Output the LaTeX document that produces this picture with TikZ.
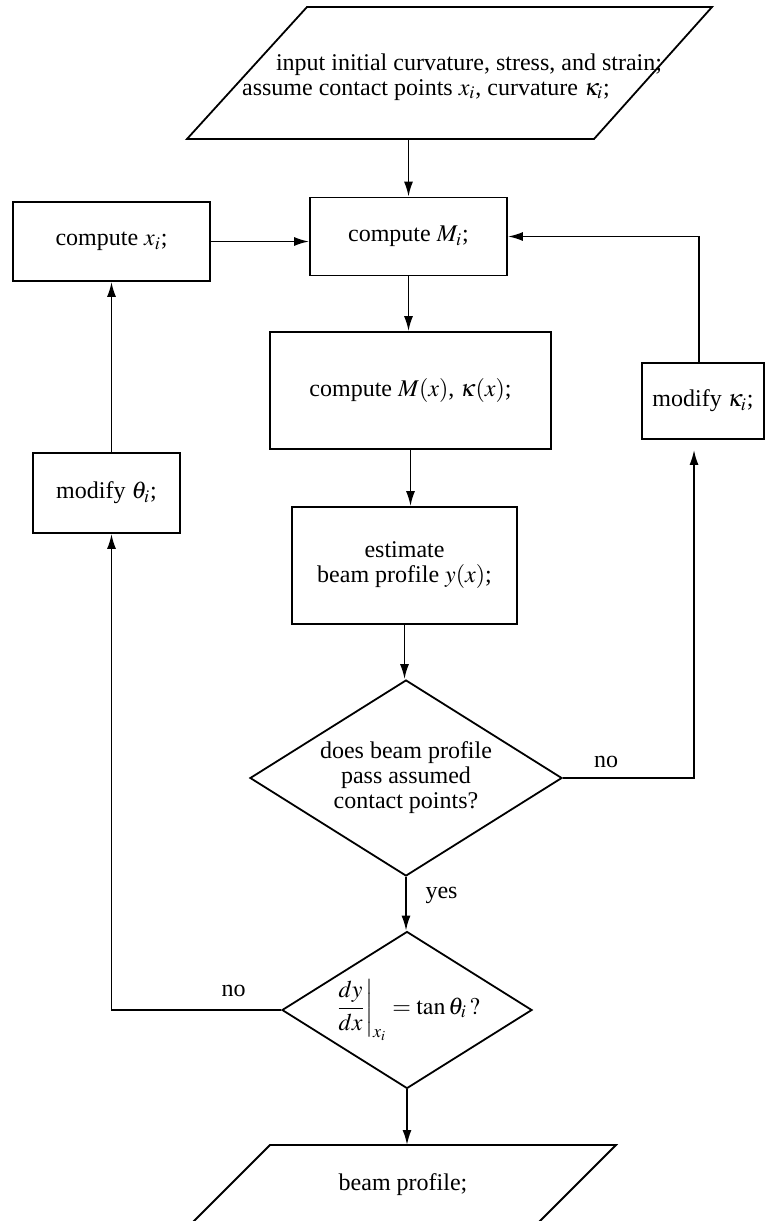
\documentclass[tikz,border=0pt]{standalone}
\usepackage{mathptmx}
\usepackage{fontspec}
\setmainfont{Liberation Serif}
\usetikzlibrary{shapes.geometric,arrows.meta}

\begin{document}
\begin{tikzpicture}[x=0.5pt,y=-0.5pt,
	font=\fontsize{12}{12.5}\selectfont,
	box/.style={draw,line width=0.9pt,inner sep=0pt,align=center},
	choice/.style={diamond,draw,line width=0.9pt,inner sep=0pt,shape aspect=1.6,align=center},
	iotext/.style={inner sep=0pt,align=center},
	ioline/.style={line width=0.9pt,line join=miter},
	flow/.style={line width=0.9pt,-{Latex[length=7.5pt,width=4.5pt]}}]
\useasboundingbox (0,0) rectangle (765,1221);
\clip (0,0) rectangle (765,1221);
\node[iotext] (input) at (450,77) {\hspace*{19pt}input initial curvature, stress, and strain;\\assume contact points $x_i$, curvature $\kappa_i$;\hspace*{24pt}}; % input
\draw[ioline] ([shift={(-143,-70)}]input.center) -- ++(405,0) -- ++(-118,132) -- ++(-407,0) -- cycle; % input frame
\coordinate (inbase) at ([yshift=-31pt]input.center); % input bottom
\node[box,minimum width=98.5pt,minimum height=39.5pt] (xi) at (111.5,241.5) {compute $x_i$;}; % xi
\node[box,minimum width=98.5pt,minimum height=39pt] (Mi) at (408.5,236.5) {compute $M_i$;}; % Mi
\node[box,minimum width=140.5pt,minimum height=58.5pt] (Mx) at (410.5,390.5) {compute $M(x)$, $\kappa(x)$;}; % Mx
\node[box,minimum width=61pt,minimum height=38pt] (kappa) at (703,401) {modify $\kappa_i$;}; % kappa
\node[box,minimum width=73.5pt,minimum height=40pt] (theta) at (106.5,493) {modify $\theta_i$;}; % theta
\node[box,minimum width=112.5pt,minimum height=58.5pt] (profile) at (404.5,565.5) {estimate\\beam profile $y(x)$;}; % profile
\node[choice,minimum width=156pt,minimum height=98pt] (pass) at (406,778) {does beam profile\\pass assumed\\contact points?}; % pass
\node[choice,minimum width=125pt,minimum height=78.5pt] (slope) at (407,1010) {$\displaystyle\left.\frac{dy}{dx}\right|_{x_i} = \tan\theta_i\,?$}; % slope
\node[iotext] (result) at (403,1185) {beam profile;}; % result
\draw[ioline] ([shift={(-133,-40)}]result.center) -- ++(346,0) -- ++(-80,80) -- ++(-346,0) -- cycle; % result frame
\coordinate (outtop) at ([yshift=20pt]result.center); % result top

\draw[flow] (inbase -| Mi.north) -- (Mi.north); % input-Mi
\draw[flow] (xi.east) -- (Mi.west |- xi.east); % xi-Mi
\draw[flow] (Mi.south) -- (Mi.south |- Mx.north); % Mi-Mx
\draw[flow] (Mx.south) -- (Mx.south |- profile.north); % Mx-profile
\draw[flow] (profile.south) -- (profile.south |- pass.north); % profile-pass
\draw[flow] (pass.south) -- node[right,pos=0.35,xshift=6pt]{yes} (pass.south |- slope.north); % pass-slope
\draw[flow] (slope.south) -- (slope.south |- outtop); % slope-result
\draw[flow,shorten >=5pt] (pass.east) -- node[above,pos=0.33,yshift=1.5pt]{no} ([xshift=-4.5pt]kappa.south |- pass.east) -- ([xshift=-4.5pt]kappa.south); % pass-kappa
\draw[flow] ([xshift=-2pt]kappa.north) |- (Mi.east); % kappa-Mi
\draw[flow] (slope.west) -| node[above,pos=0.14,yshift=3pt]{no} ([xshift=2.5pt]theta.south); % slope-theta
\draw[flow] ([xshift=2.5pt]theta.north) -- ([xshift=2.5pt]theta.north |- xi.south); % theta-xi
\end{tikzpicture}
\end{document}
